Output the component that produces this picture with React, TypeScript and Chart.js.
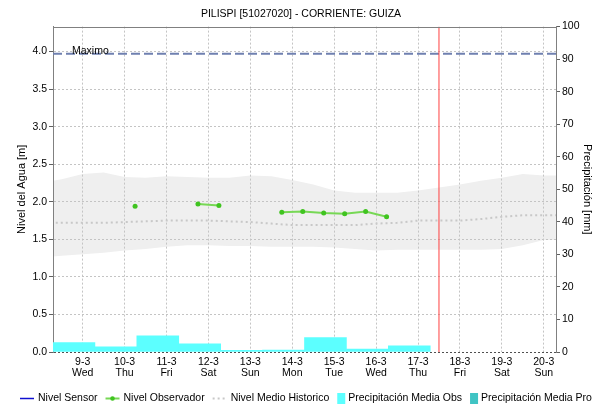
import React, { useEffect, useRef } from "react";
import { Chart, registerables } from "chart.js";

Chart.register(...registerables);

// ---- Data ----
const TITLE = "PILISPI [51027020] - CORRIENTE: GUIZA";
const X_MIN = 8 + 7 / 24; // 8-3 07:00
const X_MAX = 20 + 7 / 24; // 20-3 07:00
const dayTicks = [9, 10, 11, 12, 13, 14, 15, 16, 17, 18, 19, 20];
const dayLabels = ["9-3", "10-3", "11-3", "12-3", "13-3", "14-3", "15-3", "16-3", "17-3", "18-3", "19-3", "20-3"];
const weekdayLabels = ["Wed", "Thu", "Fri", "Sat", "Sun", "Mon", "Tue", "Wed", "Thu", "Fri", "Sat", "Sun"];
const levelTicks = [0, 0.5, 1, 1.5, 2, 2.5, 3, 3.5, 4];
const LEVEL_MAX = 4.333;
const precipTicks = [0, 10, 20, 30, 40, 50, 60, 70, 80, 90, 100];
const PRECIP_MAX = 100;

// daily precipitation (day starting 07:00)
const precipDays = [8, 9, 10, 11, 12, 13, 14, 15, 16];
const precipObs = [2.9, 1.6, 5.0, 2.5, 0.5, 0.6, 4.4, 0.9, 1.9];

// observer readings (06:00 / 18:00)
const obsTimes = [10.25, 10.75, 11.25, 11.75, 12.25, 12.75, 13.25, 13.75, 14.25, 14.75, 15.25, 15.75, 16.25];
const obsValues = [1.94, null, null, 1.97, 1.95, null, null, 1.86, 1.87, 1.85, 1.84, 1.87, 1.8];

// historic band and mean
const histDays = [8, 8.5, 9, 9.5, 10, 10.5, 11, 11.5, 12, 12.5, 13, 13.5, 14, 14.5, 15, 15.5, 16, 16.5, 17, 17.5, 18, 18.5, 19, 19.5, 20, 20.5];
const histUpper = [2.25, 2.3, 2.37, 2.39, 2.33, 2.32, 2.34, 2.33, 2.32, 2.32, 2.35, 2.34, 2.29, 2.23, 2.15, 2.12, 2.12, 2.12, 2.15, 2.19, 2.23, 2.28, 2.32, 2.37, 2.35, 2.35];
const histLower = [1.26, 1.28, 1.3, 1.32, 1.35, 1.37, 1.4, 1.42, 1.42, 1.41, 1.41, 1.4, 1.4, 1.4, 1.39, 1.37, 1.35, 1.36, 1.36, 1.36, 1.36, 1.36, 1.37, 1.42, 1.49, 1.49];
const histMean = [1.72, 1.72, 1.72, 1.72, 1.73, 1.74, 1.75, 1.75, 1.75, 1.74, 1.73, 1.71, 1.69, 1.69, 1.69, 1.69, 1.71, 1.72, 1.75, 1.75, 1.75, 1.77, 1.8, 1.82, 1.82, 1.82];

const maxLevel = 3.97;
const maxLabel = "Maximo";
const nowDay = 17.5;

// ---- Styles ----
const FONT = '"Liberation Sans", Arial, sans-serif';
const GRID = "#c4c4c4";
const AXIS = "#808080";
const C_SENSOR = "#1010d0";
const C_OBS_LINE = "#77d855";
const C_OBS_POINT = "#40c420";
const C_MEAN = "#c8c8c8";
const C_BAND = "#efefef";
const C_MAX = "#6f80b0";
const C_NOW = "#ff4040";
const C_PRECIP_OBS = "#5cffff";
const C_PRECIP_PRO = "#40c4c4";

const legendItems = [
  { label: "Nivel Sensor", kind: "line", color: C_SENSOR },
  { label: "Nivel Observador", kind: "linePoint", color: C_OBS_LINE, point: C_OBS_POINT },
  { label: "Nivel Medio Historico", kind: "dots", color: C_MEAN },
  { label: "Precipitación Media Obs", kind: "box", color: C_PRECIP_OBS },
  { label: "Precipitación Media Pro", kind: "box", color: C_PRECIP_PRO },
];

const decorPlugin = {
  id: "decor",
  afterDatasetsDraw(chart: any) {
    const { ctx, chartArea, scales } = chart;
    ctx.save();
    // top border
    ctx.strokeStyle = AXIS;
    ctx.lineWidth = 1;
    ctx.beginPath();
    ctx.moveTo(chartArea.left, Math.round(chartArea.top) + 0.5);
    ctx.lineTo(chartArea.right, Math.round(chartArea.top) + 0.5);
    ctx.stroke();
    // Maximo label
    const y = scales.y.getPixelForValue(maxLevel);
    ctx.fillStyle = "#000";
    ctx.font = `10.5px ${FONT}`;
    ctx.textBaseline = "alphabetic";
    ctx.textAlign = "left";
    ctx.fillText(maxLabel, chartArea.left + 19, y + 0.5);
    ctx.restore();
  },
  afterDraw(chart: any) {
    const { ctx } = chart;
    ctx.save();
    ctx.font = `10.5px ${FONT}`;
    ctx.textBaseline = "middle";
    ctx.textAlign = "left";
    const y = 398;
    let x = 20;
    for (const it of legendItems) {
      if (it.kind === "box") {
        ctx.fillStyle = it.color;
        ctx.fillRect(x, y - 5, 8, 11);
        x += 11;
      } else {
        ctx.strokeStyle = it.color;
        ctx.lineWidth = it.kind === "line" ? 1.5 : 2;
        ctx.setLineDash(it.kind === "dots" ? [2, 3] : []);
        ctx.beginPath();
        ctx.moveTo(x, y + 0.5);
        ctx.lineTo(x + 14, y + 0.5);
        ctx.stroke();
        ctx.setLineDash([]);
        if (it.kind === "linePoint") {
          ctx.fillStyle = (it as any).point;
          ctx.beginPath();
          ctx.arc(x + 7, y + 0.5, 2.3, 0, Math.PI * 2);
          ctx.fill();
        }
        x += 18;
      }
      ctx.fillStyle = "#000";
      ctx.fillText(it.label, x, y + 0.5);
      x += ctx.measureText(it.label).width + 8;
    }
    ctx.restore();
  },
};

export default function App() {
  const ref = useRef<HTMLCanvasElement | null>(null);

  useEffect(() => {
    document.body.style.margin = "0";
    const canvas = ref.current;
    if (!canvas) return;

    const chart = new Chart(canvas, {
      type: "line",
      data: {
        datasets: [
          {
            label: "Nivel Sensor",
            data: [],
            borderColor: C_SENSOR,
            borderWidth: 1.5,
            pointRadius: 0,
            yAxisID: "y",
            order: 0,
          } as any,
          {
            label: "Nivel Observador",
            data: obsTimes.map((t, i) => ({ x: t, y: obsValues[i] })),
            borderColor: C_OBS_LINE,
            borderWidth: 2,
            pointRadius: 2.5,
            pointBackgroundColor: C_OBS_POINT,
            pointBorderWidth: 0,
            spanGaps: false,
            yAxisID: "y",
            order: 0,
          },
          {
            label: "Historico Max",
            data: histDays.map((d, i) => ({ x: d, y: histUpper[i] })),
            borderWidth: 0,
            pointRadius: 0,
            backgroundColor: C_BAND,
            fill: "+1",
            yAxisID: "y",
            order: 9,
          },
          {
            label: "Historico Min",
            data: histDays.map((d, i) => ({ x: d, y: histLower[i] })),
            borderWidth: 0,
            pointRadius: 0,
            fill: false,
            yAxisID: "y",
            order: 9,
          },
          {
            label: "Nivel Medio Historico",
            data: histDays.map((d, i) => ({ x: d, y: histMean[i] })),
            borderColor: C_MEAN,
            borderWidth: 2,
            borderDash: [2, 3],
            pointRadius: 0,
            fill: false,
            yAxisID: "y",
            order: 5,
          },
          {
            label: maxLabel,
            data: [
              { x: X_MIN, y: maxLevel },
              { x: X_MAX, y: maxLevel },
            ],
            borderColor: C_MAX,
            borderWidth: 2,
            borderDash: [9, 4],
            pointRadius: 0,
            fill: false,
            yAxisID: "y",
            order: 4,
          },
          {
            label: "Ahora",
            data: [
              { x: nowDay, y: 0 },
              { x: nowDay, y: LEVEL_MAX },
            ],
            borderColor: C_NOW,
            borderWidth: 1,
            pointRadius: 0,
            fill: false,
            yAxisID: "y",
            order: 2,
          },
          {
            type: "bar",
            label: "Precipitación Media Obs",
            data: precipDays.map((d, i) => ({ x: d + 7 / 24 + 0.5, y: precipObs[i] })),
            backgroundColor: C_PRECIP_OBS,
            borderWidth: 0,
            barPercentage: 1,
            categoryPercentage: 1,
            grouped: false,
            yAxisID: "y1",
            order: 8,
          } as any,
          {
            type: "bar",
            label: "Precipitación Media Pro",
            data: [],
            backgroundColor: C_PRECIP_PRO,
            borderWidth: 0,
            barPercentage: 1,
            categoryPercentage: 1,
            grouped: false,
            yAxisID: "y1",
            order: 8,
          } as any,
        ],
      },
      options: {
        responsive: false,
        animation: false,
        layout: { padding: 0 },
        plugins: {
          legend: { display: false },
          tooltip: { enabled: false },
          filler: { drawTime: "beforeDraw" } as any,
          title: {
            display: true,
            text: TITLE,
            color: "#000",
            font: { family: FONT, size: 10.5, weight: "normal" },
            padding: { top: 8, bottom: 6 },
          },
        },
        scales: {
          x: {
            type: "linear",
            min: X_MIN,
            max: X_MAX,
            offset: false,
            afterBuildTicks: (s: any) => {
              s.ticks = dayTicks.map((v) => ({ value: v }));
            },
            afterFit: (s: any) => {
              s.height = 60;
            },
            ticks: {
              autoSkip: false,
              maxRotation: 0,
              padding: 5,
              color: "#000",
              font: { family: FONT, size: 10.5, lineHeight: 1.05 },
              callback: (_v: any, i: number) => [dayLabels[i], weekdayLabels[i]],
            },
            grid: { color: GRID, drawTicks: false, offset: false },
            border: { display: false, dash: [2, 2] },
          },
          y: {
            type: "linear",
            position: "left",
            min: 0,
            max: LEVEL_MAX,
            afterBuildTicks: (s: any) => {
              s.ticks = levelTicks.map((v) => ({ value: v }));
            },
            afterFit: (s: any) => {
              s.width = 53;
            },
            ticks: {
              padding: 2,
              color: "#000",
              font: { family: FONT, size: 10.5 },
              callback: (v: any) => Number(v).toFixed(1),
            },
            grid: {
              color: (c: any) => (c.tick && c.tick.value === 0 ? "#505050" : GRID),
              tickColor: "#606060",
              tickLength: 4,
              tickBorderDash: [],
            } as any,
            border: { color: AXIS, dash: [2, 2] },
            title: {
              display: true,
              text: "Nivel del Agua [m]",
              color: "#000",
              font: { family: FONT, size: 11 },
              padding: { top: 15, bottom: 0 },
            },
          },
          y1: {
            type: "linear",
            position: "right",
            min: 0,
            max: PRECIP_MAX,
            afterBuildTicks: (s: any) => {
              s.ticks = precipTicks.map((v) => ({ value: v }));
            },
            afterFit: (s: any) => {
              s.width = 46;
            },
            ticks: {
              padding: 2,
              color: "#000",
              font: { family: FONT, size: 10.5 },
            },
            grid: {
              drawOnChartArea: false,
              color: "#606060",
              tickColor: "#606060",
              tickLength: 4,
            },
            border: { color: AXIS },
            title: {
              display: true,
              text: "Precipitación [mm]",
              color: "#000",
              font: { family: FONT, size: 11 },
              padding: { top: 8, bottom: 0 },
            },
          },
        },
      },
      plugins: [decorPlugin],
    });

    return () => chart.destroy();
  }, []);

  return (
    <div style={{ width: 602, height: 412 }}>
      <canvas ref={ref} width={602} height={412} style={{ display: "block" }} />
    </div>
  );
}
